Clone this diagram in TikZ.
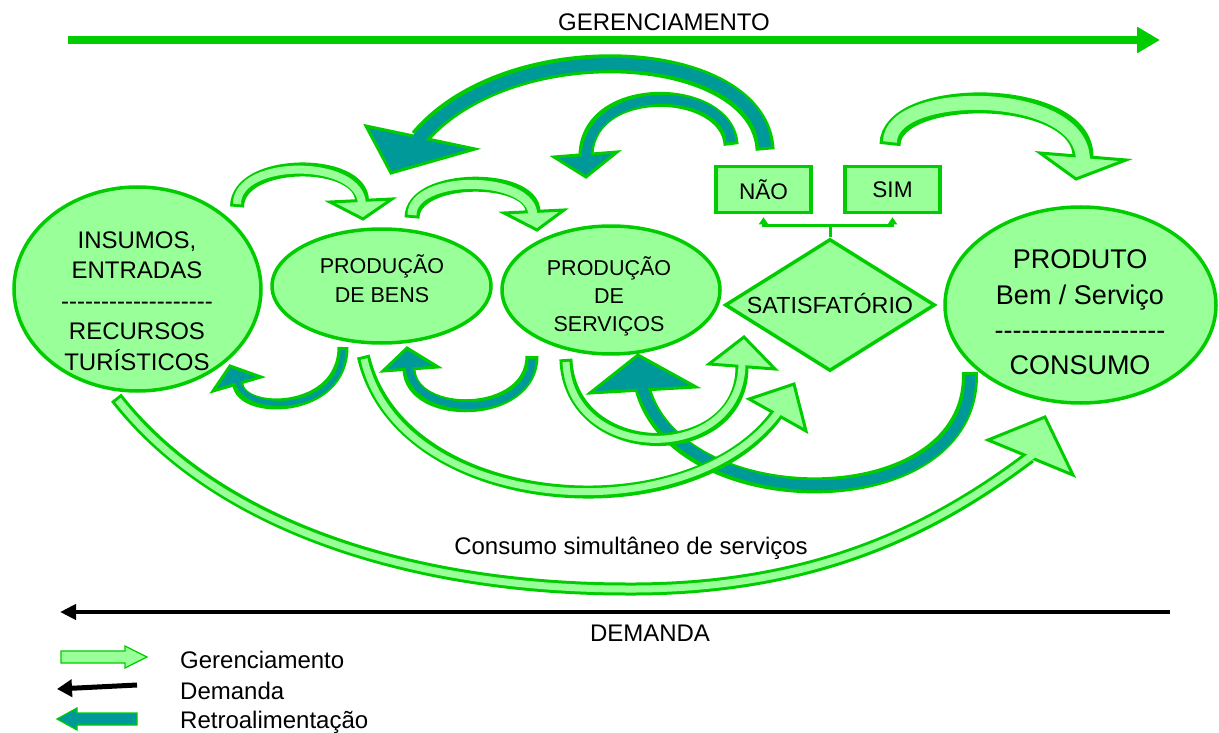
\documentclass[tikz,border=0pt]{standalone}
\usepackage{fontspec}
\setmainfont{Liberation Sans}[Ligatures=TeXOff]
\usetikzlibrary{shapes.geometric,arrows.meta}

\definecolor{verdeclaro}{HTML}{99FF99}
\definecolor{verde}{HTML}{00CC00}
\definecolor{azul}{HTML}{009999}

\tikzset{
  bolha/.style={ellipse, draw=verde, fill=verdeclaro, line width=3.5pt},
  caixa/.style={rectangle, draw=verde, fill=verdeclaro, line width=3.5pt,
    minimum width=95pt, minimum height=46pt, font=\fontsize{22.6}{27}\selectfont},
  losango/.style={diamond, draw=verde, fill=verdeclaro, line width=3.5pt,
    minimum width=210pt, minimum height=132pt},
  texto/.style={align=center, inner sep=0pt, font=\fontsize{24}{30.5}\selectfont},
  ramo/.style={draw=verde, line width=3pt},
}

% seta curva: cor, largura total, largura interna, caminho, ponta
\newcommand{\setacurva}[5]{%
  \draw[verde, line width=#2, shorten <=-3pt] #4;
  \filldraw[draw=verde, fill=#1, line width=3pt, line join=miter] #5;
  \draw[#1, line width=#3, shorten >=-4pt] #4;
}

\begin{document}
\begin{tikzpicture}[x=1pt,y=-1pt]
  \useasboundingbox (0,0) rectangle (1219,733);

  % gerenciamento / demanda
  \coordinate (gi) at (68,40);
  \coordinate (gf) at (1160,40);
  \draw[verde, line width=8pt, -{Triangle[length=23pt,width=25pt]}] (gi) -- (gf);
  \node[texto, anchor=base] (tger) at (664,31) {GERENCIAMENTO};

  \coordinate (di) at (1170,612);
  \coordinate (df) at (60,612);
  \draw[line width=4pt, -{Triangle[length=16pt,width=15pt]}] (di) -- (df);
  \node[texto, anchor=base] (tdem) at (650,641) {DEMANDA};
  \node[texto, anchor=base] (tconsumo) at (631,554) {Consumo simultâneo de serviços};

  % blocos
  \node[bolha, minimum width=247pt, minimum height=204pt] (insumos) at (137.5,289) {};
  \node[texto] (tinsumos) at (137,301) {INSUMOS,\\ENTRADAS\\-------------------\\RECURSOS\\TURÍSTICOS};

  \node[bolha, minimum width=219pt, minimum height=114pt] (bens) at (381.5,286) {};
  \node[texto, font=\fontsize{21.5}{29}\selectfont] (tbens) at (382,279) {PRODUÇÃO\\DE BENS};

  \node[bolha, minimum width=218pt, minimum height=128pt] (servicos) at (611,290) {};
  \node[texto, font=\fontsize{21.5}{28}\selectfont] (tservicos) at (609,296.5) {PRODUÇÃO\\DE\\SERVIÇOS};

  \node[losango] (satisf) at (830,305) {};
  \node[texto, font=\fontsize{23.3}{28}\selectfont] (tsatisf) at (830,304) {SATISFATÓRIO};

  \node[bolha, minimum width=271pt, minimum height=196pt] (produto) at (1080.5,305) {};
  \node[texto, font=\fontsize{27}{35.3}\selectfont] (tproduto) at (1080,312.5) {PRODUTO\\Bem / Serviço\\-------------------\\CONSUMO};

  \node[caixa] (nao) at (763.5,189.5) {NÃO};
  \node[caixa] (sim) at (892.5,189.5) {SIM};

  \coordinate (juncao) at (830,225);
  \draw[ramo] (satisf.north) -- (juncao);
  \draw[ramo, {Triangle[width=9pt,length=7pt]}-{Triangle[width=9pt,length=7pt]}]
    ([yshift=-3pt]nao.south) |- (juncao) -| ([yshift=-3pt]sim.south);

  % retroalimentacao
  \coordinate (t1a) at (765,147);  \coordinate (t1b) at (419,138);
  \setacurva{azul}{19pt}{12pt}{(t1a) .. controls (760,45) and (510,30) .. (t1b)}{(366,126) -- (391,173) -- (475,149) -- cycle}
  \coordinate (t2a) at (731,142);  \coordinate (t2b) at (586,155);
  \setacurva{azul}{15pt}{9pt}{(t2a) .. controls (728,85) and (588,80) .. (t2b)}{(554,157) -- (586,177) -- (617,152) -- cycle}
  \coordinate (t3a) at (343,350);  \coordinate (t3b) at (238,384);
  \setacurva{azul}{11pt}{5pt}{(t3a) .. controls (343,415) and (240,415) .. (t3b)}{(213,391) -- (230,366) -- (261,377) -- cycle}
  \coordinate (t4a) at (532,359);  \coordinate (t4b) at (409,369);
  \setacurva{azul}{13pt}{7pt}{(t4a) .. controls (532,420) and (410,420) .. (t4b)}{(383,371) -- (407,348) -- (438,367) -- cycle}
  \coordinate (t5a) at (970,375);  \coordinate (t5b) at (643,390);
  \setacurva{azul}{16pt}{10pt}{(t5a) .. controls (975,520) and (680,520) .. (t5b)}{(590,393) -- (638,355) -- (696,387) -- cycle}

  % gerenciamento entre etapas
  \coordinate (g1a) at (237,204);  \coordinate (g1b) at (362,201);
  \setacurva{verdeclaro}{14pt}{8pt}{(g1a) .. controls (237,158) and (362,158) .. (g1b)}{(330,202) -- (363,219) -- (392,199) -- cycle}
  \coordinate (g2a) at (412,215);  \coordinate (g2b) at (533,212);
  \setacurva{verdeclaro}{15pt}{9pt}{(g2a) .. controls (412,174) and (533,174) .. (g2b)}{(504,213) -- (537,230) -- (564,210) -- cycle}
  \coordinate (g3a) at (890,142);  \coordinate (g3b) at (1083,157);
  \setacurva{verdeclaro}{21pt}{14pt}{(g3a) .. controls (890,87) and (1084,87) .. (g3b)}{(1040,153) -- (1076,179) -- (1126,160) -- cycle}
  \coordinate (g4a) at (364,359);  \coordinate (g4b) at (777,414);
  \setacurva{verdeclaro}{13pt}{7pt}{(g4a) .. controls (400,515) and (690,535) .. (g4b)}{(749,399) -- (794,384) -- (806,431) -- cycle}
  \coordinate (g5a) at (566,362);  \coordinate (g5b) at (742,367);
  \setacurva{verdeclaro}{13pt}{7pt}{(g5a) .. controls (570,465) and (742,465) .. (g5b)}{(709,364) -- (744,337) -- (775,369) -- cycle}
  \coordinate (g6a) at (118,400);  \coordinate (g6m) at (627,589);  \coordinate (g6b) at (1030,457);
  \setacurva{verdeclaro}{13pt}{7pt}{(g6a) .. controls (220,530) and (420,589) .. (g6m) .. controls (820,590) and (940,525) .. (g6b)}{(988,440) -- (1045,417) -- (1073,475) -- cycle}

  % legenda
  \filldraw[draw=verde, fill=verdeclaro, line width=1.2pt] (61,651) -- (125,651) -- (125,646) -- (147,657) -- (125,668) -- (125,663) -- (61,663) -- cycle;
  \draw[line width=5pt, -{Triangle[length=15pt,width=17pt]}] (137,685) -- (57,689);
  \filldraw[draw=verde, fill=azul, line width=1.2pt] (137,713) -- (77,713) -- (77,708) -- (57,719) -- (77,730) -- (77,725) -- (137,725) -- cycle;
  \node[texto, anchor=base west] (lger) at (180,668) {Gerenciamento};
  \node[texto, anchor=base west] (ldem) at (180,699) {Demanda};
  \node[texto, anchor=base west] (lretro) at (180,728) {Retroalimentação};
\end{tikzpicture}
\end{document}
